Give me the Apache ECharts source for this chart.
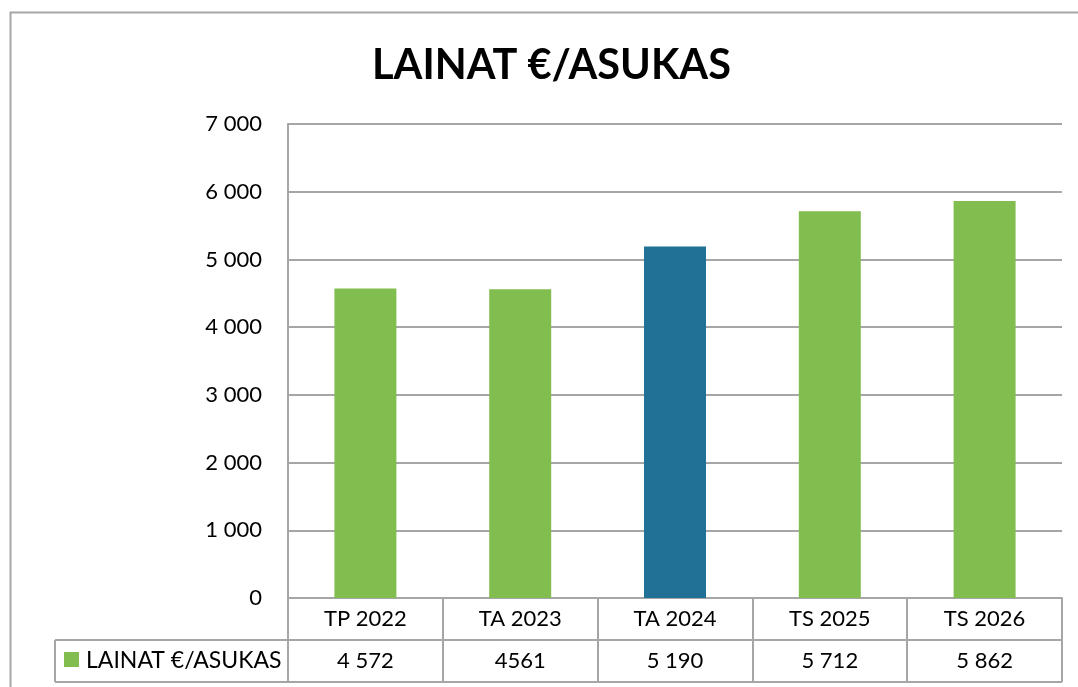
<!DOCTYPE html>
<html>
<head>
<meta charset="utf-8">
<script src="https://cdn.jsdelivr.net/npm/echarts@6/dist/echarts.min.js"></script>
<style>
html, body { margin: 0; padding: 0; background: #fff; }
#chart { width: 1078px; height: 687px; }
</style>
</head>
<body>
<div id="chart"></div>
<script>
// data
const categories = ['TP 2022', 'TA 2023', 'TA 2024', 'TS 2025', 'TS 2026'];
const values = [4572, 4561, 5190, 5712, 5862];
const tableLabels = ['4 572', '4561', '5 190', '5 712', '5 862'];
const seriesName = 'LAINAT €/ASUKAS';
const highlighted = 'TA 2024';

const green = '#82bd4f';
const blue = '#217196';
const lineGray = '#a6a6a6';
const font = 'Lato';

// plot area geometry
const plotLeft = 288, plotRight = 1062, plotBottom = 598, rowH = 42;

const fmt = v => String(v).replace(/\B(?=(\d{3})+$)/g, ' ');

let myChart = echarts.init(document.getElementById('chart'));

let option = {
    animation: false,
    textStyle: { fontFamily: font },
    title: {
        text: 'LAINAT €/ASUKAS',
        left: 367,
        top: 40,
        textStyle: { fontFamily: font, fontSize: 41.5, fontWeight: 'bold', color: '#000' }
    },
    grid: { left: plotLeft, right: 1078 - plotRight, top: 124, bottom: 687 - plotBottom },
    xAxis: [
        {
            type: 'category',
            data: categories,
            axisLine: { show: true, lineStyle: { color: lineGray, width: 2 } },
            axisTick: { show: true, length: rowH * 2, lineStyle: { color: lineGray, width: 2 } },
            axisLabel: { color: '#000', fontSize: 22, margin: 10 }
        },
        {
            type: 'category',
            data: tableLabels,
            position: 'bottom',
            offset: rowH,
            axisLine: { show: false },
            axisTick: { show: false },
            axisLabel: { color: '#000', fontSize: 22, margin: 10 }
        }
    ],
    yAxis: {
        type: 'value',
        min: 0,
        max: 7000,
        interval: 1000,
        axisLine: { show: true, lineStyle: { color: lineGray, width: 2 } },
        axisTick: { show: false },
        splitLine: { lineStyle: { color: lineGray, width: 2 } },
        axisLabel: { color: '#000', fontSize: 22, margin: 26, formatter: fmt }
    },
    series: [
        {
            name: seriesName,
            type: 'bar',
            xAxisIndex: 0,
            barWidth: 62,
            data: values,
            itemStyle: {
                color: p => (p.name === highlighted ? blue : green)
            }
        }
    ],
    graphic: [
        // outer chart border
        {
            type: 'rect',
            shape: { x: 10.5, y: 12.5, width: 1100, height: 700 },
            style: { fill: 'none', stroke: lineGray, lineWidth: 2 },
            silent: true
        },
        // data table lines
        {
            type: 'line',
            shape: { x1: 55, y1: plotBottom + rowH, x2: plotRight, y2: plotBottom + rowH },
            style: { stroke: lineGray, lineWidth: 2 }
        },
        {
            type: 'line',
            shape: { x1: 55, y1: plotBottom + rowH * 2, x2: plotRight, y2: plotBottom + rowH * 2 },
            style: { stroke: lineGray, lineWidth: 2 }
        },
        {
            type: 'line',
            shape: { x1: 55, y1: plotBottom + rowH, x2: 55, y2: plotBottom + rowH * 2 },
            style: { stroke: lineGray, lineWidth: 2 }
        },
        // legend key in table
        {
            type: 'rect',
            shape: { x: 64, y: 652, width: 15, height: 15 },
            style: { fill: green }
        },
        {
            type: 'text',
            x: 86,
            y: plotBottom + rowH * 1.5,
            style: {
                text: seriesName,
                fontFamily: font,
                fontSize: 23,
                fill: '#000',
                verticalAlign: 'middle'
            }
        }
    ]
};

myChart.setOption(option);
</script>
</body>
</html>
